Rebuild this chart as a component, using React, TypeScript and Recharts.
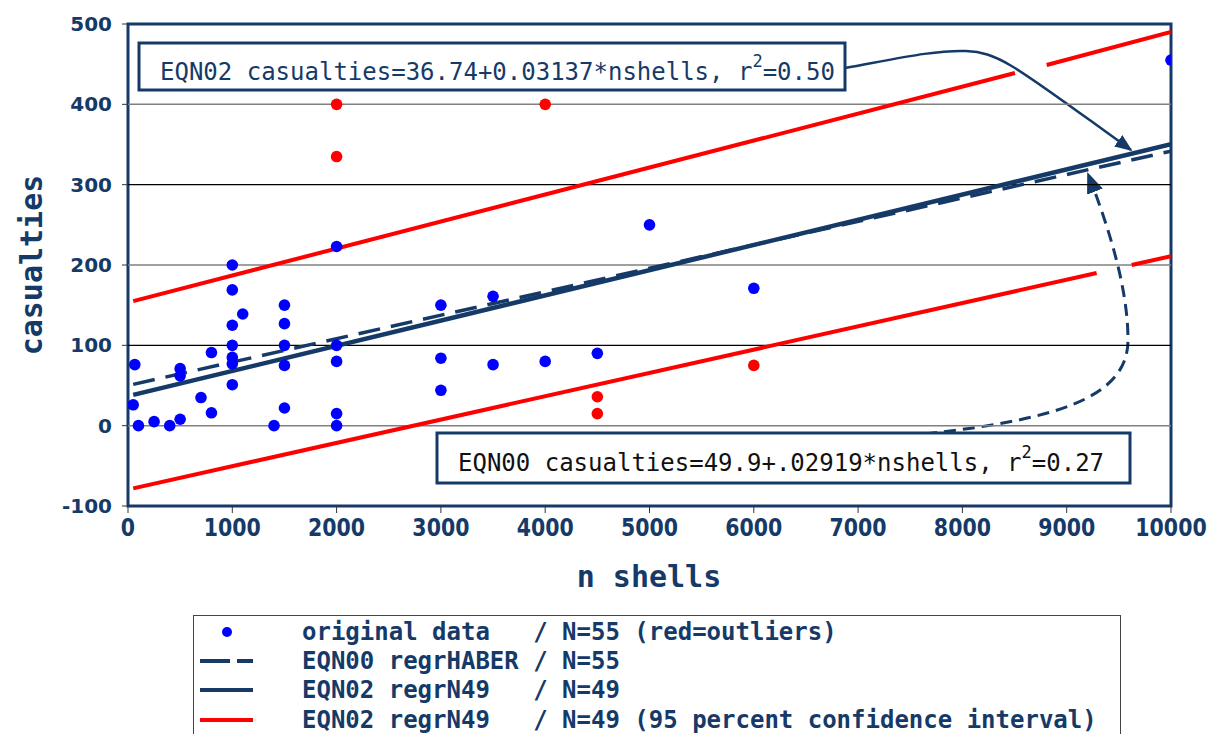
import React from "react";
import {
  ComposedChart,
  Scatter,
  Line,
  XAxis,
  YAxis,
  ReferenceLine,
  ReferenceArea,
  Legend,
  Customized,
} from "recharts";

// ---- data ----
const blueShells = [50, 65, 100, 250, 400, 500, 500, 500, 700, 800, 800, 1000, 1000, 1000, 1000, 1000, 1000, 1000, 1100, 1400, 1500, 1500, 1500, 1500, 1500, 2000, 2000, 2000, 2000, 2000, 3000, 3000, 3000, 3500, 3500, 4000, 4500, 5000, 6000, 10000];
const blueCasualties = [26, 76, 0, 5, 0, 71, 62, 8, 35, 91, 16, 200, 169, 125, 100, 85, 77, 51, 139, 0, 150, 127, 100, 75, 22, 223, 100, 80, 15, 0, 150, 84, 44, 161, 76, 80, 90, 250, 171, 455];

const redShells = [2000, 2000, 4000, 4500, 4500, 6000];
const redCasualties = [400, 335, 400, 36, 15, 75];

// regression lines (end points)
const regrShells = [50, 10000];
const eqn00Values = [51.4, 341.8];
const eqn02Values = [38.3, 350.4];

// 95% band, with the breaks where the annotation arrows cross it
const upperShells = [50, 8504, 8650, 8808, 10000];
const upperValues = [155, 439, null, 449, 490];
const lowerShells = [50, 9287, 9450, 9623, 10000];
const lowerValues = [-78, 190, null, 200, 211];

const xTicks = [0, 1000, 2000, 3000, 4000, 5000, 6000, 7000, 8000, 9000, 10000];
const yTicks = [-100, 0, 100, 200, 300, 400, 500];
const grayGrid = [0, 200, 400];
const blackGrid = [100, 300];

const legendLabels = [
  "original data   / N=55 (red=outliers)",
  "EQN00 regrHABER / N=55",
  "EQN02 regrN49   / N=49",
  "EQN02 regrN49   / N=49 (95 percent confidence interval)",
];

const zip = (xs: number[], ys: (number | null)[]) => xs.map((x, i) => ({ x, y: ys[i] }));

const blueData = zip(blueShells, blueCasualties);
const redData = zip(redShells, redCasualties);
const eqn00Data = zip(regrShells, eqn00Values);
const eqn02Data = zip(regrShells, eqn02Values);
const upperData = zip(upperShells, upperValues);
const lowerData = zip(lowerShells, lowerValues);

const NAVY = "#163a68";
const MONO = "'DejaVu Sans Mono', monospace";
const SANS = "'DejaVu Sans', sans-serif";

// x tick labels are tall and narrow in the original
const XTick = (props: any) => {
  const { x, y, payload } = props;
  return (
    <text
      transform={`translate(${x},${y + 21}) scale(0.82,1)`}
      textAnchor="middle"
      fontFamily={SANS}
      fontWeight="bold"
      fontSize={25}
      fill={NAVY}
    >
      {payload.value}
    </text>
  );
};

const Annotations = () => (
  <g>
    <defs>
      <marker id="head" viewBox="0 0 10 10" refX="9" refY="5" markerWidth="7" markerHeight="7" orient="auto">
        <path d="M0,1 L10,5 L0,9 z" fill={NAVY} />
      </marker>
    </defs>
    {/* axis titles */}
    <text
      x={0}
      y={0}
      transform="translate(42,265) rotate(-90)"
      textAnchor="middle"
      fontFamily={MONO}
      fontWeight="bold"
      fontSize={30}
      fill={NAVY}
    >
      casualties
    </text>
    <text x={649} y={587} textAnchor="middle" fontFamily={MONO} fontWeight="bold" fontSize={30} fill={NAVY}>
      n shells
    </text>

    {/* EQN02 box + arrow */}
    <path
      d="M845,68 C900,58 935,50 966,51 C1000,52 1020,70 1131,150"
      fill="none"
      stroke={NAVY}
      strokeWidth={2.5}
      markerEnd="url(#head)"
    />
    <rect x={139} y={43} width={706} height={47} fill="#fff" stroke={NAVY} strokeWidth={3} />
    <text x={160} y={80} fontFamily={MONO} fontSize={24} fill={NAVY} style={{ whiteSpace: "pre" }}>
      EQN02 casualties=36.74+0.03137*nshells, r<tspan dy={-13} fontSize={17}>2</tspan>
      <tspan dy={13}>=0.50</tspan>
    </text>

    {/* EQN00 box + arrow */}
    <path
      d="M925,434 C1050,420 1128,400 1128,340 C1128,290 1110,230 1088,174"
      fill="none"
      stroke={NAVY}
      strokeWidth={3}
      strokeDasharray="12 7"
      markerEnd="url(#head)"
    />
    <rect x={437} y={433} width={693} height={50} fill="#fff" stroke={NAVY} strokeWidth={3} />
    <text x={458} y={471} fontFamily={MONO} fontSize={24} fill="#111" style={{ whiteSpace: "pre" }}>
      EQN00 casualties=49.9+.02919*nshells, r<tspan dy={-13} fontSize={17}>2</tspan>
      <tspan dy={13}>=0.27</tspan>
    </text>
  </g>
);

const LegendBox = () => {
  const rowY = [17, 46, 75, 105];
  return (
    <svg width={930} height={125} style={{ display: "block" }}>
      <rect x={0.5} y={0.5} width={927} height={140} fill="#fff" stroke="#444" strokeWidth={1} />
      <circle cx={34} cy={rowY[0]} r={5} fill="#0000ff" />
      <line x1={7} x2={60} y1={rowY[1]} y2={rowY[1]} stroke={NAVY} strokeWidth={4} strokeDasharray="30 7" />
      <line x1={7} x2={60} y1={rowY[2]} y2={rowY[2]} stroke={NAVY} strokeWidth={4} />
      <line x1={7} x2={60} y1={rowY[3]} y2={rowY[3]} stroke="#ff0000" strokeWidth={4} />
      {legendLabels.map((t, i) => (
        <text
          key={i}
          x={109}
          y={rowY[i] + 8}
          fontFamily={MONO}
          fontWeight="bold"
          fontSize={24}
          fill={NAVY}
          style={{ whiteSpace: "pre" }}
        >
          {t}
        </text>
      ))}
    </svg>
  );
};

export default function App() {
  return (
    <>
      <style>{"body{margin:0;overflow:hidden;background:#fff}"}</style>
      <ComposedChart width={1210} height={734} margin={{ top: 24, right: 39, bottom: 138, left: 0 }}>
        <XAxis
          type="number"
          dataKey="x"
          domain={[0, 10000]}
          ticks={xTicks}
          allowDataOverflow
          height={90}
          axisLine={false}
          tickSize={7}
          tickLine={{ stroke: "#333" }}
          tick={<XTick />}
        />
        <YAxis
          type="number"
          dataKey="y"
          domain={[-100, 500]}
          ticks={yTicks}
          allowDataOverflow
          width={128}
          axisLine={false}
          tickSize={6}
          tickMargin={10}
          tickLine={{ stroke: "#333" }}
          tick={{ fontSize: 20, fontWeight: "bold", fill: NAVY, fontFamily: SANS }}
        />
        {grayGrid.map((v) => (
          <ReferenceLine key={"g" + v} y={v} stroke="#808080" strokeWidth={1.5} />
        ))}
        {blackGrid.map((v) => (
          <ReferenceLine key={"b" + v} y={v} stroke="#000" strokeWidth={1.2} />
        ))}
        <Line data={upperData} dataKey="y" stroke="#ff0000" strokeWidth={4} dot={false} isAnimationActive={false} legendType="none" />
        <Line data={lowerData} dataKey="y" stroke="#ff0000" strokeWidth={4} dot={false} isAnimationActive={false} legendType="none" />
        <Line data={eqn00Data} dataKey="y" stroke={NAVY} strokeWidth={3.5} strokeDasharray="22 11" dot={false} isAnimationActive={false} legendType="none" />
        <Line data={eqn02Data} dataKey="y" stroke={NAVY} strokeWidth={4.5} dot={false} isAnimationActive={false} legendType="none" />
        <Scatter data={blueData} fill="#0000ff" shape={(p: any) => <circle cx={p.cx} cy={p.cy} r={5.8} fill="#0000ff" />} isAnimationActive={false} />
        <Scatter data={redData} fill="#ff0000" shape={(p: any) => <circle cx={p.cx} cy={p.cy} r={5.8} fill="#ff0000" />} isAnimationActive={false} />
        <ReferenceArea x1={0} x2={10000} y1={-100} y2={500} fill="none" fillOpacity={0} stroke={NAVY} strokeWidth={3} />
        <Customized component={Annotations} />
        <Legend
          layout="vertical"
          align="center"
          verticalAlign="middle"
          content={LegendBox}
          wrapperStyle={{ position: "absolute", left: 193, top: 615, width: 930, height: 125 }}
        />
      </ComposedChart>
    </>
  );
}
